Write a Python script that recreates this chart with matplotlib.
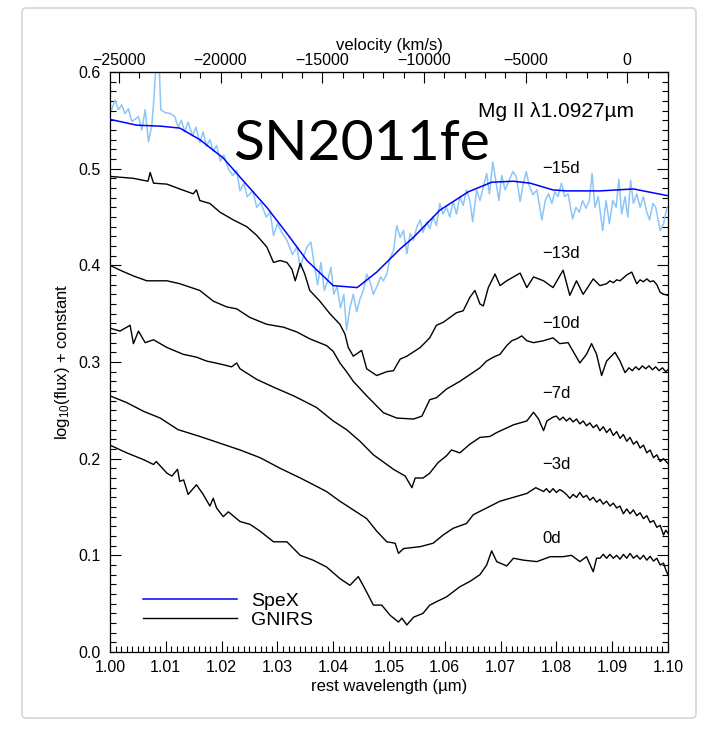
import numpy as np
import matplotlib
matplotlib.use("Agg")
import matplotlib.pyplot as plt
from matplotlib.ticker import MultipleLocator, FormatStrFormatter, FixedLocator
from matplotlib.patches import FancyBboxPatch

plt.rcParams['font.family'] = ['Liberation Sans', 'DejaVu Sans']
plt.rcParams['mathtext.default'] = 'regular'

# ---------------- data ----------------
C_KMS = 299792.458
LAM0 = 1.0927  # Mg II line, micron

# SpeX smooth fit (-15d)
lam_fit = [1.0000, 1.0048, 1.0090, 1.0125, 1.0161, 1.0203, 1.0238, 1.0281, 1.0317, 1.0353,
           1.0400, 1.0443, 1.0478, 1.0520, 1.0544, 1.0591, 1.0642, 1.0684, 1.0723, 1.0753,
           1.0794, 1.0818, 1.0878, 1.0938, 1.1000]
flux_fit = [0.551, 0.545, 0.544, 0.542, 0.530, 0.511, 0.488, 0.460, 0.433, 0.405,
            0.379, 0.377, 0.393, 0.417, 0.429, 0.457, 0.476, 0.486, 0.487, 0.485,
            0.478, 0.477, 0.477, 0.479, 0.472]

# SpeX data (-15d)
lam_spex = [1.0003, 1.0009, 1.0015, 1.0021, 1.0027, 1.0033, 1.0039, 1.0045, 1.0051, 1.0057,
            1.0063, 1.0069, 1.0075, 1.0079, 1.0084, 1.0087, 1.0091, 1.0099, 1.0108, 1.0116,
            1.0122, 1.0128, 1.0134, 1.0140, 1.0148, 1.0154, 1.0161, 1.0167, 1.0173, 1.0179,
            1.0185, 1.0191, 1.0198, 1.0204, 1.0212, 1.0220, 1.0227, 1.0233, 1.0240, 1.0246,
            1.0256, 1.0263, 1.0270, 1.0280, 1.0287, 1.0293, 1.0300, 1.0308, 1.0317, 1.0327,
            1.0335, 1.0341, 1.0346, 1.0353, 1.0360, 1.0366, 1.0372, 1.0378, 1.0384, 1.0390,
            1.0396, 1.0401, 1.0407, 1.0413, 1.0419, 1.0424, 1.0430, 1.0436, 1.0442, 1.0448,
            1.0454, 1.0460, 1.0466, 1.0472, 1.0479, 1.0485, 1.0490, 1.0496, 1.0502, 1.0508,
            1.0514, 1.0520, 1.0526, 1.0532, 1.0538, 1.0544, 1.0550, 1.0556, 1.0561, 1.0568,
            1.0573, 1.0579, 1.0585, 1.0591, 1.0597, 1.0603, 1.0609, 1.0615, 1.0621, 1.0627,
            1.0633, 1.0639, 1.0645, 1.0650, 1.0657, 1.0663, 1.0669, 1.0675, 1.0680, 1.0686,
            1.0692, 1.0697, 1.0702, 1.0708, 1.0714, 1.0722, 1.0728, 1.0735, 1.0740, 1.0746,
            1.0751, 1.0758, 1.0765, 1.0774, 1.0780, 1.0786, 1.0792, 1.0797, 1.0803, 1.0809,
            1.0815, 1.0821, 1.0829, 1.0835, 1.0841, 1.0847, 1.0853, 1.0859, 1.0864, 1.0869,
            1.0875, 1.0883, 1.0889, 1.0895, 1.0901, 1.0907, 1.0912, 1.0917, 1.0923, 1.0928,
            1.0933, 1.0938, 1.0944, 1.0950, 1.0956, 1.0962, 1.0967, 1.0973, 1.0978, 1.0986,
            1.0992, 1.0998]
flux_spex = [0.561, 0.571, 0.561, 0.566, 0.557, 0.562, 0.549, 0.551, 0.554, 0.540,
             0.561, 0.528, 0.545, 0.575, 0.625, 0.625, 0.561, 0.558, 0.557, 0.554,
             0.543, 0.550, 0.538, 0.548, 0.534, 0.543, 0.527, 0.538, 0.523, 0.530,
             0.518, 0.524, 0.508, 0.514, 0.500, 0.493, 0.498, 0.477, 0.485, 0.471,
             0.477, 0.460, 0.465, 0.450, 0.455, 0.431, 0.443, 0.434, 0.426, 0.411,
             0.419, 0.397, 0.408, 0.419, 0.424, 0.401, 0.380, 0.403, 0.374, 0.384,
             0.398, 0.370, 0.378, 0.356, 0.370, 0.333, 0.356, 0.370, 0.352, 0.365,
             0.374, 0.391, 0.383, 0.370, 0.379, 0.388, 0.384, 0.391, 0.408, 0.415,
             0.441, 0.429, 0.436, 0.412, 0.433, 0.426, 0.440, 0.447, 0.434, 0.445,
             0.438, 0.450, 0.441, 0.464, 0.453, 0.460, 0.450, 0.466, 0.453, 0.471,
             0.462, 0.478, 0.467, 0.445, 0.478, 0.467, 0.481, 0.495, 0.474, 0.507,
             0.485, 0.467, 0.493, 0.478, 0.486, 0.497, 0.492, 0.466, 0.483, 0.497,
             0.483, 0.473, 0.478, 0.447, 0.467, 0.474, 0.464, 0.476, 0.471, 0.485,
             0.471, 0.474, 0.448, 0.460, 0.455, 0.467, 0.459, 0.467, 0.495, 0.460,
             0.471, 0.436, 0.467, 0.443, 0.467, 0.460, 0.489, 0.453, 0.471, 0.450,
             0.488, 0.464, 0.474, 0.460, 0.471, 0.455, 0.447, 0.464, 0.460, 0.436,
             0.443, 0.460]

# GNIRS -13d
lam_m13 = [1.0000, 1.0042, 1.0068, 1.0072, 1.0078, 1.0102, 1.0125, 1.0149, 1.0155, 1.0161,
           1.0179, 1.0197, 1.0221, 1.0245, 1.0263, 1.0281, 1.0293, 1.0305, 1.0317, 1.0326,
           1.0332, 1.0341, 1.0349, 1.0358, 1.0376, 1.0394, 1.0412, 1.0421, 1.0427, 1.0436,
           1.0451, 1.0460, 1.0478, 1.0496, 1.0508, 1.0520, 1.0532, 1.0556, 1.0573, 1.0585,
           1.0597, 1.0621, 1.0633, 1.0645, 1.0654, 1.0663, 1.0669, 1.0678, 1.0690, 1.0699,
           1.0711, 1.0723, 1.0735, 1.0747, 1.0759, 1.0777, 1.0794, 1.0812, 1.0824, 1.0836,
           1.0848, 1.0866, 1.0878, 1.0890, 1.0896, 1.0902, 1.0908, 1.0914, 1.0920, 1.0926,
           1.0935, 1.0944, 1.0950, 1.0956, 1.0962, 1.0968, 1.0974, 1.0980, 1.0986, 1.0993,
           1.1000]
flux_m13 = [0.492, 0.490, 0.487, 0.496, 0.485, 0.484, 0.479, 0.474, 0.478, 0.467,
            0.464, 0.455, 0.447, 0.440, 0.431, 0.419, 0.403, 0.405, 0.403, 0.396,
            0.384, 0.402, 0.391, 0.374, 0.363, 0.350, 0.339, 0.329, 0.315, 0.306,
            0.312, 0.293, 0.286, 0.290, 0.291, 0.303, 0.306, 0.315, 0.325, 0.338,
            0.341, 0.351, 0.353, 0.367, 0.374, 0.360, 0.358, 0.377, 0.391, 0.379,
            0.384, 0.388, 0.392, 0.377, 0.388, 0.384, 0.377, 0.395, 0.369, 0.384,
            0.370, 0.386, 0.379, 0.381, 0.384, 0.382, 0.385, 0.384, 0.387, 0.390,
            0.393, 0.381, 0.385, 0.383, 0.386, 0.383, 0.384, 0.380, 0.372, 0.370,
            0.369]

# GNIRS -10d
lam_m10 = [1.0000, 1.0018, 1.0042, 1.0066, 1.0102, 1.0125, 1.0161, 1.0185, 1.0209, 1.0227,
           1.0251, 1.0281, 1.0311, 1.0335, 1.0358, 1.0388, 1.0400, 1.0412, 1.0424, 1.0436,
           1.0460, 1.0490, 1.0514, 1.0544, 1.0559, 1.0573, 1.0585, 1.0603, 1.0627, 1.0663,
           1.0675, 1.0687, 1.0699, 1.0711, 1.0720, 1.0729, 1.0738, 1.0747, 1.0759, 1.0777,
           1.0794, 1.0806, 1.0821, 1.0833, 1.0842, 1.0854, 1.0863, 1.0872, 1.0881, 1.0890,
           1.0905, 1.0914, 1.0923, 1.0930, 1.0936, 1.0942, 1.0948, 1.0954, 1.0960, 1.0966,
           1.0972, 1.0978, 1.0984, 1.0990, 1.0996, 1.1000]
flux_m10 = [0.400, 0.395, 0.389, 0.384, 0.384, 0.381, 0.374, 0.363, 0.357, 0.355,
            0.346, 0.339, 0.336, 0.331, 0.324, 0.317, 0.311, 0.299, 0.290, 0.280,
            0.265, 0.2475, 0.242, 0.241, 0.244, 0.261, 0.263, 0.272, 0.280, 0.294,
            0.301, 0.305, 0.308, 0.317, 0.322, 0.324, 0.327, 0.322, 0.320, 0.322,
            0.325, 0.319, 0.320, 0.308, 0.299, 0.308, 0.319, 0.308, 0.286, 0.301,
            0.310, 0.301, 0.289, 0.294, 0.291, 0.295, 0.292, 0.296, 0.293, 0.296,
            0.292, 0.295, 0.291, 0.294, 0.290, 0.292]

# GNIRS -7d
lam_m7 = [1.0000, 1.0018, 1.0036, 1.0042, 1.0051, 1.0063, 1.0078, 1.0102, 1.0131, 1.0155,
          1.0173, 1.0197, 1.0218, 1.0227, 1.0233, 1.0263, 1.0293, 1.0329, 1.0353, 1.0370,
          1.0400, 1.0424, 1.0448, 1.0472, 1.0496, 1.0508, 1.0529, 1.0541, 1.0547, 1.0561,
          1.0573, 1.0588, 1.0603, 1.0612, 1.0627, 1.0645, 1.0663, 1.0681, 1.0693, 1.0723,
          1.0747, 1.0759, 1.0768, 1.0777, 1.0783, 1.0794, 1.0800, 1.0806, 1.0812, 1.0818,
          1.0824, 1.0830, 1.0836, 1.0842, 1.0848, 1.0854, 1.0860, 1.0866, 1.0872, 1.0878,
          1.0884, 1.0890, 1.0896, 1.0902, 1.0908, 1.0914, 1.0920, 1.0926, 1.0932, 1.0938,
          1.0944, 1.0950, 1.0956, 1.0962, 1.0968, 1.0974, 1.0980, 1.0986, 1.0992, 1.1000]
flux_m7 = [0.335, 0.332, 0.338, 0.319, 0.332, 0.320, 0.323, 0.315, 0.308, 0.305,
           0.301, 0.298, 0.295, 0.299, 0.293, 0.282, 0.274, 0.265, 0.258, 0.253,
           0.239, 0.230, 0.218, 0.204, 0.194, 0.189, 0.182, 0.170, 0.180, 0.180,
           0.185, 0.196, 0.203, 0.209, 0.206, 0.215, 0.222, 0.223, 0.227, 0.235,
           0.239, 0.248, 0.241, 0.229, 0.239, 0.243, 0.244, 0.240, 0.243, 0.239,
           0.242, 0.238, 0.241, 0.236, 0.239, 0.234, 0.237, 0.232, 0.235, 0.229,
           0.233, 0.227, 0.231, 0.224, 0.228, 0.221, 0.225, 0.218, 0.222, 0.215,
           0.218, 0.211, 0.214, 0.206, 0.209, 0.201, 0.204, 0.197, 0.200, 0.195]

# GNIRS -3d
lam_m3 = [1.0000, 1.0030, 1.0060, 1.0090, 1.0122, 1.0161, 1.0197, 1.0233, 1.0269, 1.0305,
          1.0341, 1.0358, 1.0388, 1.0412, 1.0436, 1.0460, 1.0478, 1.0496, 1.0511, 1.0517,
          1.0526, 1.0556, 1.0579, 1.0597, 1.0615, 1.0639, 1.0651, 1.0675, 1.0699, 1.0729,
          1.0747, 1.0763, 1.0777, 1.0782, 1.0788, 1.0794, 1.0800, 1.0806, 1.0812, 1.0818,
          1.0824, 1.0830, 1.0836, 1.0842, 1.0848, 1.0854, 1.0860, 1.0866, 1.0872, 1.0878,
          1.0884, 1.0890, 1.0896, 1.0902, 1.0908, 1.0914, 1.0920, 1.0926, 1.0932, 1.0938,
          1.0944, 1.0950, 1.0956, 1.0962, 1.0968, 1.0974, 1.0980, 1.0986, 1.0992, 1.0996,
          1.1000]
flux_m3 = [0.265, 0.258, 0.249, 0.242, 0.230, 0.223, 0.216, 0.209, 0.201, 0.190,
           0.180, 0.175, 0.166, 0.156, 0.147, 0.138, 0.125, 0.114, 0.1125, 0.102,
           0.107, 0.109, 0.1125, 0.121, 0.128, 0.133, 0.142, 0.149, 0.156, 0.161,
           0.164, 0.170, 0.166, 0.169, 0.165, 0.169, 0.165, 0.168, 0.166, 0.163,
           0.159, 0.163, 0.160, 0.165, 0.160, 0.162, 0.157, 0.160, 0.155, 0.158,
           0.153, 0.156, 0.151, 0.154, 0.149, 0.151, 0.143, 0.148, 0.143, 0.147,
           0.141, 0.144, 0.138, 0.141, 0.134, 0.136, 0.129, 0.131, 0.121, 0.126,
           0.123]

# GNIRS 0d
lam_0 = [1.0000, 1.0030, 1.0060, 1.0078, 1.0083, 1.0102, 1.0111, 1.0121, 1.0125, 1.0132,
         1.0140, 1.0155, 1.0167, 1.0179, 1.0185, 1.0191, 1.0203, 1.0212, 1.0233, 1.0251,
         1.0269, 1.0293, 1.0317, 1.0341, 1.0364, 1.0388, 1.0412, 1.0430, 1.0445, 1.0460,
         1.0472, 1.0487, 1.0502, 1.0517, 1.0523, 1.0532, 1.0544, 1.0561, 1.0573, 1.0585,
         1.0603, 1.0627, 1.0645, 1.0663, 1.0675, 1.0684, 1.0693, 1.0711, 1.0723, 1.0741,
         1.0765, 1.0789, 1.0812, 1.0827, 1.0842, 1.0854, 1.0866, 1.0872, 1.0878, 1.0884,
         1.0890, 1.0896, 1.0902, 1.0908, 1.0914, 1.0920, 1.0926, 1.0932, 1.0938, 1.0944,
         1.0950, 1.0956, 1.0962, 1.0968, 1.0974, 1.0980, 1.0986, 1.0992, 1.0996, 1.1000]
flux_0 = [0.214, 0.206, 0.199, 0.194, 0.197, 0.185, 0.182, 0.189, 0.1765, 0.178,
          0.163, 0.173, 0.163, 0.151, 0.159, 0.149, 0.140, 0.145, 0.135, 0.132,
          0.125, 0.114, 0.114, 0.100, 0.095, 0.088, 0.076, 0.069, 0.078, 0.062,
          0.0485, 0.0485, 0.038, 0.031, 0.035, 0.028, 0.036, 0.040, 0.0485, 0.052,
          0.057, 0.0675, 0.073, 0.080, 0.090, 0.1046, 0.0935, 0.089, 0.097, 0.095,
          0.0935, 0.0986, 0.0986, 0.100, 0.0935, 0.0986, 0.083, 0.097, 0.097, 0.101,
          0.097, 0.101, 0.097, 0.100, 0.096, 0.101, 0.097, 0.102, 0.097, 0.100,
          0.096, 0.100, 0.095, 0.099, 0.094, 0.097, 0.090, 0.092, 0.085, 0.080]

phase_labels = ["\u221215d", "\u221213d", "\u221210d", "\u22127d", "\u22123d", "0d"]
phase_label_y = [0.4955, 0.4075, 0.3355, 0.2630, 0.1890, 0.1130]
phase_label_x = 1.0774

vel_major = [-25000, -20000, -15000, -10000, -5000, 0]
vel_minor = [v for v in range(-25000, 2001, 1000) if v % 5000 != 0]

# ---------------- figure ----------------
fig = plt.figure(figsize=(7.14, 7.51), dpi=100)

frame = FancyBboxPatch((22 / 714, 33 / 751), 674 / 714, 710 / 751,
                       boxstyle="round,pad=0,rounding_size=0.006",
                       transform=fig.transFigure, facecolor='white',
                       edgecolor='#d6d6d6', linewidth=1.2, zorder=-10)
fig.patches.append(frame)

ax = fig.add_axes([110 / 714, 99 / 751, 558 / 714, 580 / 751])
ax.set_facecolor('none')

ax.plot(lam_spex, flux_spex, color='#8cc6f7', lw=1.1, zorder=2)
ax.plot(lam_fit, flux_fit, color='#0000ff', lw=1.1, zorder=3, label='SpeX')
black_sets = [(lam_m13, flux_m13), (lam_m10, flux_m10), (lam_m7, flux_m7),
              (lam_m3, flux_m3), (lam_0, flux_0)]
for i, (lx, fy) in enumerate(black_sets):
    ax.plot(lx, fy, color='black', lw=1.0, zorder=4,
            label='GNIRS' if i == 0 else None)

ax.set_xlim(1.0, 1.1)
ax.set_ylim(0.0, 0.6)

ax.xaxis.set_major_locator(MultipleLocator(0.01))
ax.xaxis.set_minor_locator(MultipleLocator(0.001))
ax.xaxis.set_major_formatter(FormatStrFormatter('%.2f'))
ax.yaxis.set_major_locator(MultipleLocator(0.1))
ax.yaxis.set_minor_locator(MultipleLocator(0.01))
ax.yaxis.set_major_formatter(FormatStrFormatter('%.1f'))

ax.tick_params(axis='both', which='both', direction='in', labelsize=11.5, width=0.8)
ax.tick_params(axis='x', which='both', top=False, bottom=True)
ax.tick_params(axis='y', which='both', left=True, right=True)
ax.tick_params(axis='both', which='major', length=8)
ax.tick_params(axis='both', which='minor', length=4)
ax.tick_params(axis='x', which='major', pad=6)
ax.tick_params(axis='y', which='major', pad=7)
for sp in ax.spines.values():
    sp.set_linewidth(0.9)

ax.set_xlabel('rest wavelength (\u00b5m)', fontsize=12, labelpad=3)
ax.set_ylabel('log$_{10}$(flux) + constant', fontsize=12, labelpad=4)


def lam2vel(lam):
    return C_KMS * (np.asarray(lam) / LAM0 - 1.0)


def vel2lam(v):
    return LAM0 * (1.0 + np.asarray(v) / C_KMS)


sec = ax.secondary_xaxis('top', functions=(lam2vel, vel2lam))
sec.xaxis.set_major_locator(FixedLocator(vel_major))
sec.xaxis.set_minor_locator(FixedLocator(vel_minor))
sec.tick_params(axis='x', which='both', direction='in', labelsize=11.5, width=0.8)
sec.tick_params(axis='x', which='major', length=8, pad=3)
sec.tick_params(axis='x', which='minor', length=4)
sec.set_xlabel('velocity (km/s)', fontsize=12, labelpad=2)

ax.text(1.0220, 0.5090, 'SN2011fe', fontsize=41, family=['Lato', 'DejaVu Sans'],
        ha='left', va='baseline', zorder=5)
ax.text(1.0659, 0.5535, 'Mg II \u03bb1.0927\u00b5m', fontsize=15,
        ha='left', va='baseline', zorder=5)

for lab, yy in zip(phase_labels, phase_label_y):
    ax.text(phase_label_x, yy, lab, fontsize=12, ha='left', va='baseline', zorder=5)

ax.legend(loc='lower left', bbox_to_anchor=(0.06, 0.04), frameon=False,
          fontsize=14, handlelength=4.8, handletextpad=0.75, labelspacing=0.08,
          borderaxespad=0, borderpad=0)

fig.savefig('out.png', dpi=100)
